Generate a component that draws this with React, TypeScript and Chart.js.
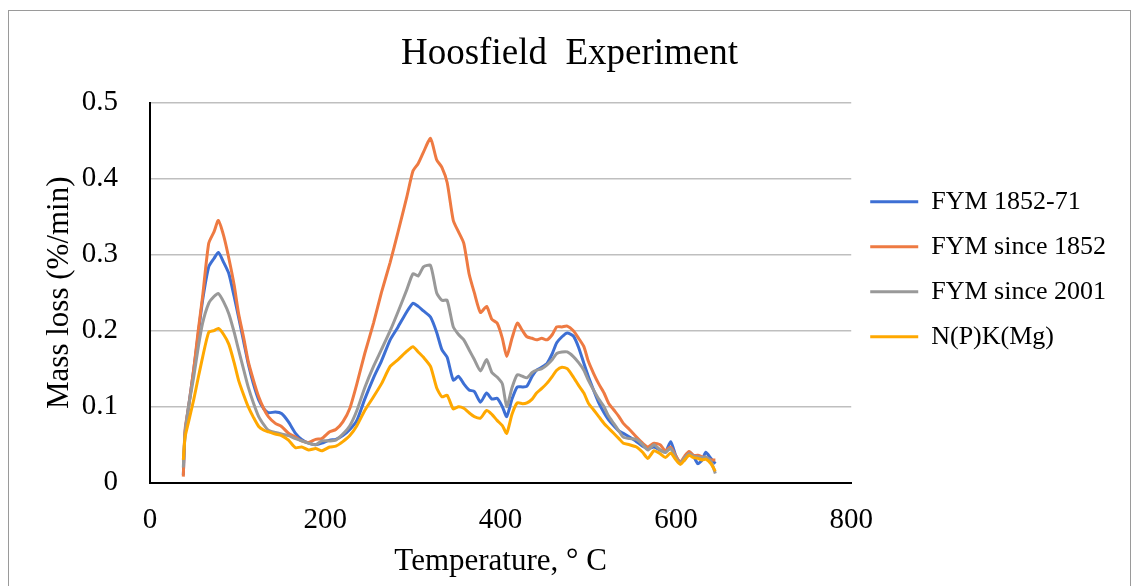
import React, { useEffect, useRef } from "react";
import { Chart, registerables } from "chart.js";

Chart.register(...registerables);

const temperatures = [
  38, 40, 44, 50, 55, 60, 67, 73, 78, 84, 90, 96, 101, 107, 112, 118, 124, 130, 135, 143,
  150, 158, 166, 173, 181, 189, 196, 205, 212, 220, 228, 236, 245, 255, 264, 274, 283, 293, 300, 306,
  312, 320, 327, 333, 339, 346, 352, 358, 364, 370, 377, 384, 390, 396, 402, 407, 413, 419, 425, 430,
  436, 441, 447, 453, 459, 464, 470, 476, 483, 489, 495, 500, 506, 512, 518, 523, 529, 535, 540, 547,
  555, 562, 568, 575, 582, 588, 594, 600, 605, 610, 615, 620, 625, 630, 634, 640, 645,
];

const fym1852to71 = [
  0.01, 0.065, 0.1, 0.15, 0.195, 0.24, 0.284, 0.295, 0.303, 0.29, 0.275, 0.245, 0.218, 0.185, 0.157, 0.13, 0.109, 0.097, 0.092, 0.093,
  0.091, 0.08, 0.065, 0.057, 0.052, 0.05, 0.052, 0.056, 0.057, 0.062, 0.07, 0.082, 0.11, 0.138, 0.16, 0.188, 0.205, 0.225, 0.236, 0.232,
  0.226, 0.218, 0.198, 0.175, 0.165, 0.135, 0.14, 0.13, 0.122, 0.12, 0.106, 0.118, 0.11, 0.111, 0.1, 0.087, 0.11, 0.126, 0.126, 0.127,
  0.14, 0.148, 0.152, 0.157, 0.17, 0.184, 0.192, 0.197, 0.193, 0.178, 0.157, 0.14, 0.122, 0.105, 0.092, 0.083, 0.075, 0.068, 0.065, 0.06,
  0.054, 0.048, 0.045, 0.047, 0.043, 0.04, 0.054, 0.035, 0.027, 0.03, 0.04, 0.035, 0.025, 0.03, 0.04, 0.032, 0.025,
];

const fymSince1852 = [
  0.008, 0.07, 0.1, 0.15, 0.2, 0.245, 0.315, 0.33, 0.345, 0.325, 0.295, 0.26, 0.223, 0.19, 0.16, 0.135, 0.113, 0.097, 0.087, 0.078,
  0.074, 0.065, 0.06, 0.055, 0.053, 0.057, 0.058, 0.067, 0.07, 0.08, 0.098, 0.13, 0.17, 0.21, 0.25, 0.29, 0.33, 0.376, 0.41, 0.42,
  0.435, 0.453, 0.425, 0.415, 0.395, 0.345, 0.33, 0.315, 0.275, 0.25, 0.224, 0.232, 0.215, 0.21, 0.19, 0.166, 0.19, 0.21, 0.2, 0.192,
  0.19, 0.188, 0.19, 0.188, 0.195, 0.205, 0.205, 0.206, 0.2, 0.19, 0.179, 0.16, 0.144, 0.13, 0.118, 0.105, 0.096, 0.087, 0.078, 0.07,
  0.06, 0.052, 0.047, 0.052, 0.05, 0.042, 0.047, 0.035, 0.027, 0.035, 0.041, 0.036, 0.036, 0.034, 0.033, 0.03, 0.03,
];

const fymSince2001 = [
  0.02, 0.065, 0.1, 0.14, 0.178, 0.21, 0.236, 0.245, 0.249, 0.238, 0.222, 0.198, 0.175, 0.148, 0.126, 0.105, 0.087, 0.076, 0.069, 0.066,
  0.064, 0.062, 0.058, 0.055, 0.052, 0.05, 0.055, 0.055, 0.056, 0.064, 0.075, 0.095, 0.125, 0.153, 0.175, 0.2, 0.225, 0.254, 0.275, 0.272,
  0.284, 0.286, 0.25, 0.24, 0.24, 0.205, 0.195, 0.188, 0.175, 0.162, 0.147, 0.162, 0.145, 0.139, 0.13, 0.1, 0.125, 0.142, 0.14, 0.138,
  0.145, 0.148, 0.15, 0.155, 0.162, 0.17, 0.172, 0.172, 0.166, 0.158, 0.148, 0.135, 0.122, 0.11, 0.1, 0.088, 0.078, 0.068, 0.06, 0.058,
  0.057, 0.05, 0.043, 0.05, 0.043, 0.04, 0.045, 0.033, 0.026, 0.033, 0.038, 0.035, 0.034, 0.033, 0.034, 0.028, 0.012,
];

const npkMg = [
  0.03, 0.06, 0.08, 0.11, 0.138, 0.165, 0.198, 0.2, 0.203, 0.195, 0.182, 0.158, 0.135, 0.115, 0.1, 0.086, 0.074, 0.069, 0.067, 0.064,
  0.062, 0.056, 0.046, 0.047, 0.043, 0.045, 0.042, 0.047, 0.048, 0.054, 0.062, 0.075, 0.095, 0.113, 0.13, 0.153, 0.162, 0.173, 0.179, 0.172,
  0.165, 0.153, 0.125, 0.113, 0.115, 0.097, 0.1, 0.098, 0.092, 0.087, 0.085, 0.095, 0.09, 0.082, 0.075, 0.065, 0.09, 0.105, 0.104, 0.105,
  0.11, 0.118, 0.124, 0.131, 0.14, 0.148, 0.152, 0.15, 0.139, 0.128, 0.118, 0.105, 0.096, 0.087, 0.078, 0.072, 0.065, 0.058, 0.052, 0.05,
  0.047, 0.04, 0.032, 0.042, 0.038, 0.033, 0.039, 0.03, 0.024, 0.03, 0.036, 0.033, 0.032, 0.03, 0.031, 0.025, 0.015,
];

const seriesNames = ["FYM 1852-71", "FYM since 1852", "FYM since 2001", "N(P)K(Mg)"];
const seriesValues = [fym1852to71, fymSince1852, fymSince2001, npkMg];
const seriesColors = ["#3D6FD4", "#EE7A42", "#999999", "#FFA800"];
const xTicks = [0, 200, 400, 600, 800];
const yTicks = [0, 0.1, 0.2, 0.3, 0.4, 0.5];

const FONT = "'Liberation Serif', 'Times New Roman', serif";

export default function App() {
  const canvasRef = useRef<HTMLCanvasElement | null>(null);

  useEffect(() => {
    const canvas = canvasRef.current;
    if (!canvas) return;
    const datasets = seriesNames.map((name, i) => ({
      label: name,
      data: temperatures.map((t, j) => ({ x: t, y: seriesValues[i][j] })),
      borderColor: seriesColors[i],
      backgroundColor: seriesColors[i],
      borderWidth: 3,
      pointRadius: 0,
      tension: 0.2,
      fill: false,
      order: seriesNames.length - i,
    }));

    const chart = new Chart(canvas, {
      type: "line",
      data: { datasets },
      options: {
        responsive: false,
        animation: false,
        layout: { padding: { left: 14, top: 0, right: 14, bottom: 0 } },
        plugins: {
          tooltip: { enabled: false },
          title: {
            display: true,
            text: "Hoosfield  Experiment",
            color: "#000",
            font: { family: FONT, size: 37, weight: "normal", lineHeight: 1.2 },
            padding: { top: 21.3, bottom: 26 },
          },
          legend: {
            display: true,
            position: "right",
            align: "start",
            fullSize: false,
            title: {
              display: true,
              text: " ",
              font: { size: 10, lineHeight: 1 },
              padding: { top: 57, bottom: 0 },
            },
            labels: {
              color: "#000",
              font: { family: FONT, size: 26 },
              boxWidth: 48,
              boxHeight: 3,
              padding: 19,
              sort: (a: any, b: any) => a.datasetIndex - b.datasetIndex,
              generateLabels: (c: any) => {
                const items = Chart.defaults.plugins.legend.labels.generateLabels(c);
                return items.map((it: any) => ({
                  ...it,
                  fillStyle: seriesColors[it.datasetIndex],
                  strokeStyle: seriesColors[it.datasetIndex],
                  lineWidth: 0,
                }));
              },
            },
          },
        },
        scales: {
          x: {
            type: "linear",
            min: 0,
            max: 800,
            afterBuildTicks: (scale: any) => {
              scale.ticks = xTicks.map((v) => ({ value: v }));
            },
            grid: { display: false, drawTicks: false },
            border: { display: true, color: "#000", width: 2 },
            ticks: {
              color: "#000",
              padding: 19.9,
              maxRotation: 0,
              font: { family: FONT, size: 29, lineHeight: 1.2 },
            },
            title: {
              display: true,
              text: "Temperature, ° C",
              color: "#000",
              font: { family: FONT, size: 31, lineHeight: 1.2 },
              padding: { top: 0, bottom: 5.4 },
            },
            afterFit: (scale: any) => {
              scale.height = 103.3;
            },
          },
          y: {
            type: "linear",
            min: 0,
            max: 0.5,
            afterBuildTicks: (scale: any) => {
              scale.ticks = yTicks.map((v) => ({ value: v }));
            },
            grid: { color: "#BFBFBF", lineWidth: 1.5, drawTicks: false },
            border: { display: true, color: "#000", width: 2 },
            ticks: {
              color: "#000",
              padding: 32,
              font: { family: FONT, size: 29, lineHeight: 1.2 },
              callback: (v: any) => String(Math.round(Number(v) * 10) / 10),
            },
            title: {
              display: true,
              text: "Mass loss (%/min)",
              color: "#000",
              font: { family: FONT, size: 31, lineHeight: 1.2 },
              padding: { top: 18.4, bottom: 0 },
            },
            afterFit: (scale: any) => {
              scale.width = 127;
            },
          },
        },
      },
    });
    return () => chart.destroy();
  }, []);

  return (
    <div
      style={{
        position: "fixed",
        left: 8,
        top: 10,
        width: 1121,
        height: 600,
        border: "1px solid #9a9a9a",
        background: "#fff",
        overflow: "hidden",
      }}
    >
      <canvas ref={canvasRef} width={1121} height={575} style={{ display: "block" }} />
    </div>
  );
}
